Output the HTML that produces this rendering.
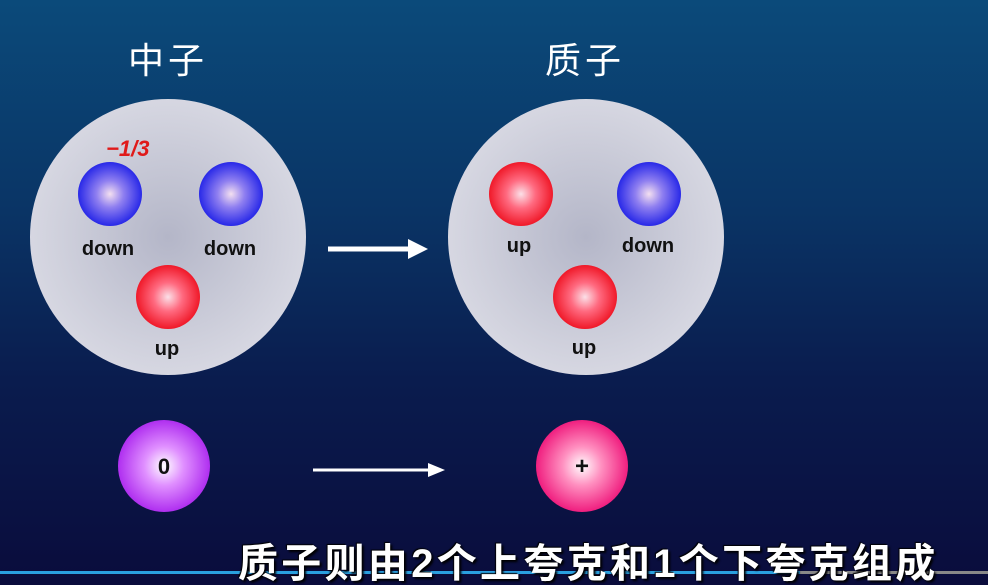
<!DOCTYPE html>
<html><head><meta charset="utf-8"><style>
html,body{margin:0;width:988px;height:585px;overflow:hidden}
body{background:linear-gradient(180deg,#0b4a7a 0%,#0a3566 35%,#0a1c4e 65%,#0a0c3c 100%);position:relative;font-family:"Liberation Sans","Noto Sans CJK SC",sans-serif}
.a{position:absolute}
.big{border-radius:50%;background:radial-gradient(circle at 50% 50%,#b4b6c8 0%,#cfd0dc 55%,#e4e4ec 100%)}
.q{position:absolute;width:64px;height:64px;border-radius:50%}
.b{background:radial-gradient(circle at 50% 50%,#f4e0f0 0%,#8f7ff0 30%,#2a2ae8 70%,#1a14b0 100%)}
.r{background:radial-gradient(circle at 50% 50%,#fbe0e8 0%,#ff6a80 32%,#f01a2a 70%,#c0101c 100%)}
.l{position:absolute;font-size:20px;color:#111;transform:translateX(-50%);font-weight:bold}
.t{position:absolute;color:#fff;font-size:36px;transform:translateX(-50%);letter-spacing:4px}
</style></head><body>
<div class="t" style="left:168px;top:32px">中子</div>
<div class="t" style="left:585px;top:32px">质子</div>
<div class="a big" style="left:30px;top:99px;width:276px;height:276px"></div>
<div class="a big" style="left:448px;top:99px;width:276px;height:276px"></div>
<div class="a" style="left:106px;top:136px;color:#e01a1a;font-weight:bold;font-size:22px;font-style:italic">−1/3</div>
<div class="q b" style="left:78px;top:162px"></div>
<div class="q b" style="left:199px;top:162px"></div>
<div class="q r" style="left:136px;top:265px"></div>
<div class="l" style="left:108px;top:238px">down</div>
<div class="l" style="left:230px;top:238px">down</div>
<div class="l" style="left:167px;top:338px">up</div>
<div class="q r" style="left:489px;top:162px"></div>
<div class="q b" style="left:617px;top:162px"></div>
<div class="q r" style="left:553px;top:265px"></div>
<div class="l" style="left:519px;top:235px">up</div>
<div class="l" style="left:648px;top:235px">down</div>
<div class="l" style="left:584px;top:337px">up</div>
<svg class="a" style="left:0;top:0" width="988" height="585">
<line x1="328" y1="249" x2="412" y2="249" stroke="#fff" stroke-width="5"/>
<polygon points="408,239 428,249 408,259" fill="#fff"/>
<line x1="313" y1="470" x2="432" y2="470" stroke="#fff" stroke-width="3"/>
<polygon points="428,463 445,470 428,477" fill="#fff"/>
</svg>
<div class="a" style="left:118px;top:420px;width:92px;height:92px;border-radius:50%;background:radial-gradient(circle,#fff 0%,#e090ff 30%,#b030f0 70%,#8a10d0 100%)"></div>
<div class="a" style="left:536px;top:420px;width:92px;height:92px;border-radius:50%;background:radial-gradient(circle,#fff 0%,#ff90c0 30%,#f02080 70%,#d0106a 100%)"></div>
<div class="l" style="left:164px;top:454px;font-size:22px">0</div>
<div class="l" style="left:582px;top:453px;font-size:24px">+</div>
<div class="a" style="left:0;top:571px;width:800px;height:3px;background:#2aa0e0"></div>
<div class="a" style="left:800px;top:571px;width:188px;height:3px;background:#888"></div>
<div class="a" style="left:238px;top:531px;color:#fff;font-size:40px;font-weight:bold;letter-spacing:3.3px;text-shadow:2px 2px 2px #000,-1px -1px 1px #000;white-space:nowrap">质子则由2个上夸克和1个下夸克组成</div>
</body></html>
